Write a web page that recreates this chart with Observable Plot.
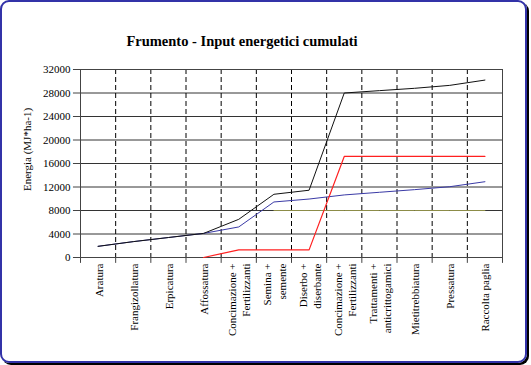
<!DOCTYPE html>
<html>
<head>
<meta charset="utf-8">
<script src="https://cdn.jsdelivr.net/npm/d3@7"></script>
<script src="https://cdn.jsdelivr.net/npm/@observablehq/plot@0.6"></script>
<style>
  html, body { margin: 0; padding: 0; background: #fff; }
  #wrap { position: relative; width: 531px; height: 365px; overflow: hidden; }
  #frame { position: absolute; left: 0; top: 0; width: 523px; height: 359px;
    border: 2px solid #3232a8; border-radius: 9px; box-shadow: 2px 2px 0 #000; box-sizing: content-box; }
  #title { position: absolute; left: 0; width: 484px; top: 33px; text-align: center;
    font: bold 14.5px "Liberation Serif", "Times New Roman", serif; color: #000; }
  #chart { position: absolute; left: 0; top: 0; }
</style>
</head>
<body>
<div id="wrap">
  <div id="frame"></div>
  <div id="title">Frumento - Input energetici cumulati</div>
  <div id="chart"></div>
</div>
<script>
const categories = [
  "Aratura", "Frangizollatura", "Erpicatura", "Affossatura",
  "Concimazione +\nFertilizzanti", "Semina +\nsemente", "Diserbo +\ndiserbante",
  "Concimazione +\nFertilizzanti", "Trattamenti +\nanticrittogamici",
  "Mietitrebbiatura", "Pressatura", "Raccolta paglia"
];
const totale  = [1900, 2700, 3400, 4100, 6500, 10760, 11450, 28000, 28400, 28800, 29300, 30200];
const blu     = [1900, 2700, 3400, 4100, 5200, 9450, 9950, 10650, 11100, 11550, 12050, 12900];
const rosso   = [null, null, null, 0, 1300, 1300, 1300, 17200, 17200, 17200, 17200, 17200];
const oliva   = [null, null, null, null, null, 8000, 8000, 8000, 8000, 8000, 8000, 8000];
const yTicks  = [0, 4000, 8000, 12000, 16000, 20000, 24000, 28000, 32000];

function series(vals, name) {
  return vals.map((v, i) => ({i: i + 0.5, v, name})).filter(d => d.v !== null);
}
const bounds = d3.range(1, categories.length);
const tickPos = d3.range(0, categories.length + 1);
const labels = categories.map((c, i) => ({i: i + 0.5, c}));
const font = '"Liberation Serif", "Times New Roman", serif';

const chart = Plot.plot({
  width: 531,
  height: 365,
  marginLeft: 80,
  marginRight: 29,
  marginTop: 69,
  marginBottom: 108,
  style: {fontFamily: font, fontSize: "11px", background: "transparent", color: "#000"},
  x: {type: "linear", domain: [0, categories.length], axis: null},
  y: {domain: [0, 32000], axis: null},
  marks: [
    Plot.ruleY(yTicks.slice(1, -1), {stroke: "#333", strokeWidth: 1}),
    Plot.ruleX(bounds, {stroke: "#000", strokeDasharray: "5,3", strokeWidth: 1}),
    Plot.frame({stroke: "#444", strokeWidth: 1}),
    Plot.ruleY(yTicks, {x1: -0.2, x2: 0, stroke: "#444"}),
    Plot.text(yTicks, {x: 0, y: d => d, text: d => String(d), textAnchor: "end", dx: -10, fontSize: 11, fill: "#000"}),
    Plot.ruleX(tickPos, {y1: -1000, y2: 0, stroke: "#444"}),
    Plot.lineY(series(oliva, "o"), {x: "i", y: "v", stroke: "#8c8c48", strokeWidth: 1}),
    Plot.lineY(series(blu, "b"), {x: "i", y: "v", stroke: "#3a3aa6", strokeWidth: 1}),
    Plot.lineY(series(rosso, "r"), {x: "i", y: "v", stroke: "#ff2020", strokeWidth: 1.2}),
    Plot.lineY(series(totale, "t"), {x: "i", y: "v", stroke: "#111", strokeWidth: 1}),
    Plot.text(labels, {x: "i", frameAnchor: "bottom", text: "c", rotate: -90, textAnchor: "end",
      lineAnchor: "middle", lineHeight: 1.3, dy: 6, fontSize: 11, fill: "#000"}),
    Plot.text(["Energia (MJ*ha-1)"], {frameAnchor: "left", text: d => d, rotate: -90, textAnchor: "middle",
      dx: -53, dy: -14, fontSize: 11, fill: "#000"})
  ]
});
document.getElementById("chart").appendChild(chart);
</script>
</body>
</html>
